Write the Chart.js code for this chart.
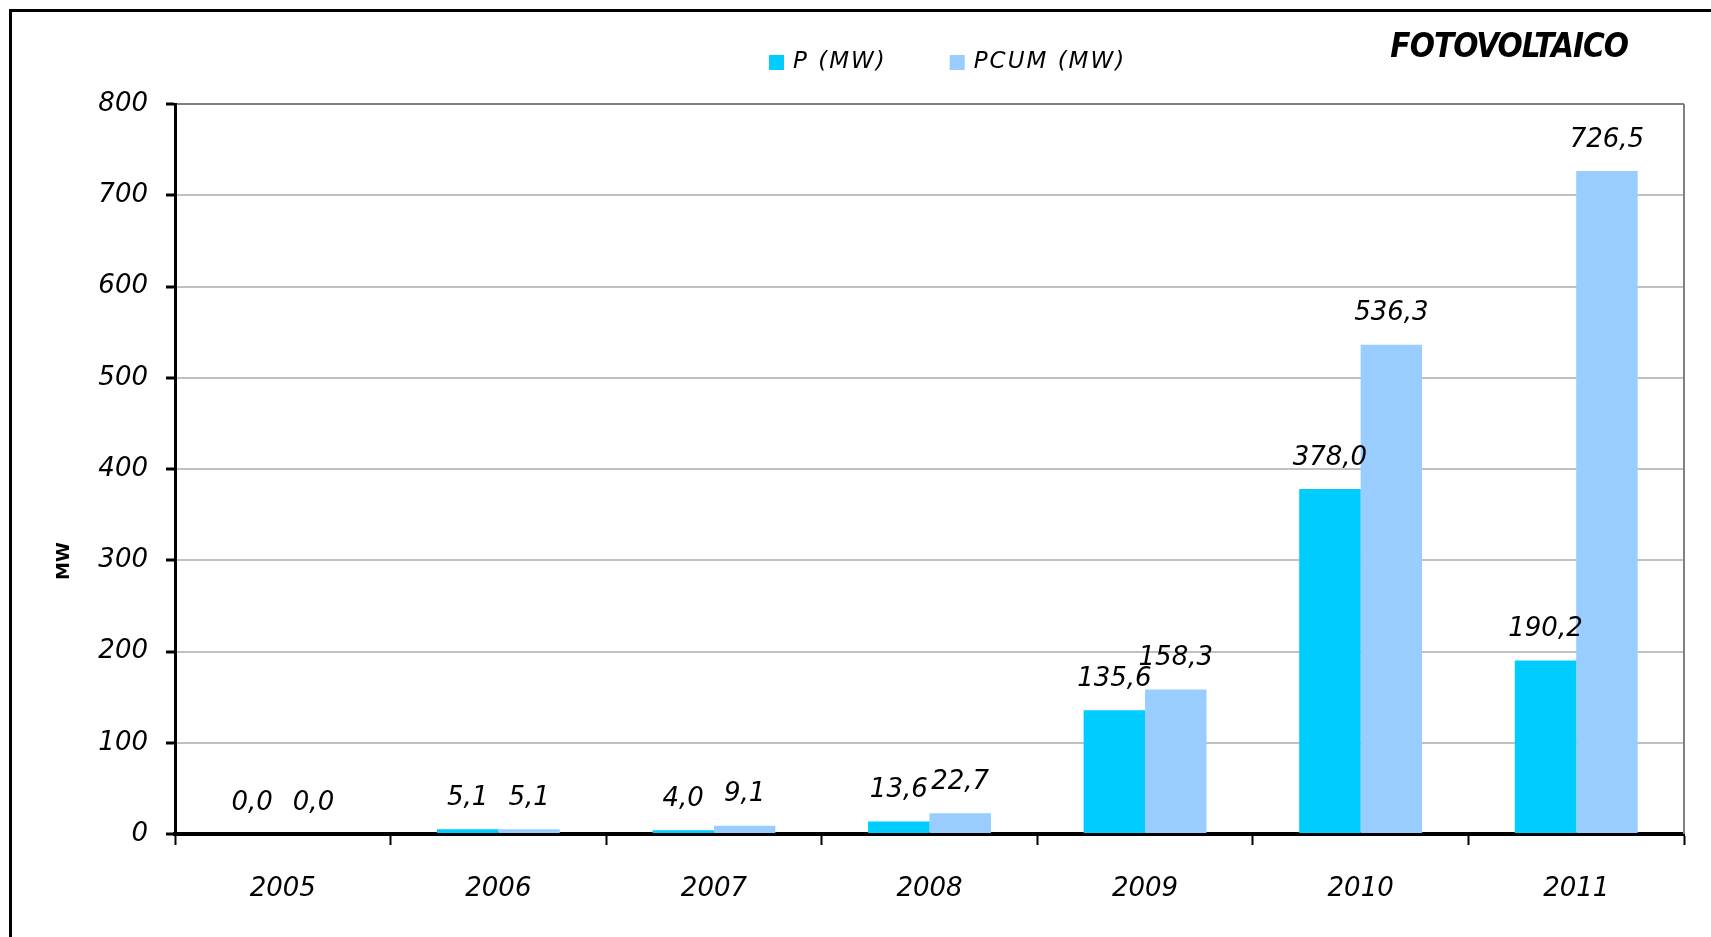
<!DOCTYPE html>
<html>
<head>
<meta charset="utf-8">
<script src="https://cdn.jsdelivr.net/npm/chart.js@4/dist/chart.umd.min.js"></script>
<style>
  html, body { margin: 0; padding: 0; background: #fff; overflow: hidden; }
  #wrap { position: relative; width: 1711px; height: 937px; }
  #frame {
    position: absolute; left: 9px; top: 9px;
    width: 1800px; height: 1000px;
    border: 3px solid #000; box-sizing: border-box;
  }
  canvas { position: absolute; left: 0; top: 0; }
</style>
</head>
<body>
<div id="wrap">
  <div id="frame"></div>
  <canvas id="chart" width="1711" height="937"></canvas>
</div>
<script>
// data
const years = ['2005', '2006', '2007', '2008', '2009', '2010', '2011'];
const pValues = [0.0, 5.1, 4.0, 13.6, 135.6, 378.0, 190.2];
const pcumValues = [0.0, 5.1, 9.1, 22.7, 158.3, 536.3, 726.5];
const seriesLabels = ['P (MW)', 'PCUM (MW)'];
const seriesColors = ['#00CCFF', '#99CCFF'];
const chartTitle = 'FOTOVOLTAICO';
const yAxisTitle = 'MW';

const numFont = 'italic 26px "DejaVu Sans"';

// value labels above each bar, comma as decimal separator
const valueLabels = {
  id: 'valueLabels',
  afterDatasetsDraw(chart) {
    const ctx = chart.ctx;
    ctx.save();
    ctx.font = numFont;
    ctx.fillStyle = '#000';
    ctx.textAlign = 'center';
    ctx.textBaseline = 'middle';
    chart.data.datasets.forEach((ds, i) => {
      chart.getDatasetMeta(i).data.forEach((bar, j) => {
        const txt = ds.data[j].toFixed(1).replace('.', ',');
        ctx.fillText(txt, bar.x, bar.y - 31);
      });
    });
    ctx.restore();
  }
};

// right border of the plot area
const plotFrame = {
  id: 'plotFrame',
  beforeDatasetsDraw(chart) {
    const { ctx, chartArea } = chart;
    ctx.save();
    ctx.strokeStyle = '#808080';
    ctx.lineWidth = 2;
    ctx.beginPath();
    ctx.moveTo(chartArea.right, chartArea.top);
    ctx.lineTo(chartArea.right, chartArea.bottom);
    ctx.stroke();
    ctx.restore();
  }
};

// legend, title and axis name at the top
const headerTexts = {
  id: 'headerTexts',
  afterDraw(chart) {
    const ctx = chart.ctx;
    ctx.save();
    ctx.textBaseline = 'middle';
    ctx.font = 'italic 23px "DejaVu Sans"';
    ctx.letterSpacing = '2px';
    let x = 769;
    const y = 62;
    chart.data.datasets.forEach((ds) => {
      ctx.fillStyle = ds.backgroundColor;
      ctx.fillRect(x, y - 7, 15, 15);
      ctx.fillStyle = '#000';
      ctx.textAlign = 'left';
      ctx.fillText(ds.label, x + 24, y);
      x += 24 + ctx.measureText(ds.label).width + 63;
    });
    ctx.letterSpacing = '0px';

    ctx.font = 'italic bold 33px "DejaVu Sans", sans-serif';
    ctx.fontStretch = 'condensed';
    ctx.letterSpacing = '-1px';
    ctx.textAlign = 'right';
    ctx.fillText(chartTitle, 1628, 48);
    ctx.letterSpacing = '0px';
    ctx.fontStretch = 'normal';

    ctx.translate(64, 561);
    ctx.rotate(-Math.PI / 2);
    ctx.font = 'bold 18px "DejaVu Sans"';
    ctx.textAlign = 'center';
    ctx.fillText(yAxisTitle, 0, 0);
    ctx.restore();
  }
};

new Chart(document.getElementById('chart'), {
  type: 'bar',
  data: {
    labels: years,
    datasets: [
      { label: seriesLabels[0], data: pValues, backgroundColor: seriesColors[0] },
      { label: seriesLabels[1], data: pcumValues, backgroundColor: seriesColors[1] }
    ]
  },
  options: {
    responsive: false,
    animation: false,
    layout: { padding: { top: 104, right: 27, left: 0, bottom: 0 } },
    datasets: {
      bar: { categoryPercentage: 0.57, barPercentage: 1.0 }
    },
    plugins: {
      legend: { display: false },
      tooltip: { enabled: false }
    },
    scales: {
      x: {
        z: 1,
        offset: true,
        grid: {
          offset: true,
          drawOnChartArea: false,
          tickLength: 11,
          tickWidth: 2,
          tickColor: '#000'
        },
        border: { color: '#000', width: 4 },
        ticks: {
          color: '#000',
          font: { family: 'DejaVu Sans', style: 'italic', size: 26 },
          padding: 29
        },
        afterFit(scale) { scale.height = 103; }
      },
      y: {
        min: 0,
        max: 800,
        ticks: {
          stepSize: 100,
          color: '#000',
          font: { family: 'DejaVu Sans', style: 'italic', size: 26 },
          padding: 18
        },
        grid: {
          color: (c) => c.tick.value === 800 ? '#808080' : (c.tick.value === 0 ? 'rgba(0,0,0,0)' : '#C0C0C0'),
          lineWidth: 2,
          tickLength: 9,
          tickWidth: 3,
          tickColor: '#000'
        },
        border: { color: '#000', width: 3 },
        afterFit(scale) { scale.width = 175; }
      }
    }
  },
  plugins: [valueLabels, plotFrame, headerTexts]
});
</script>
</body>
</html>
